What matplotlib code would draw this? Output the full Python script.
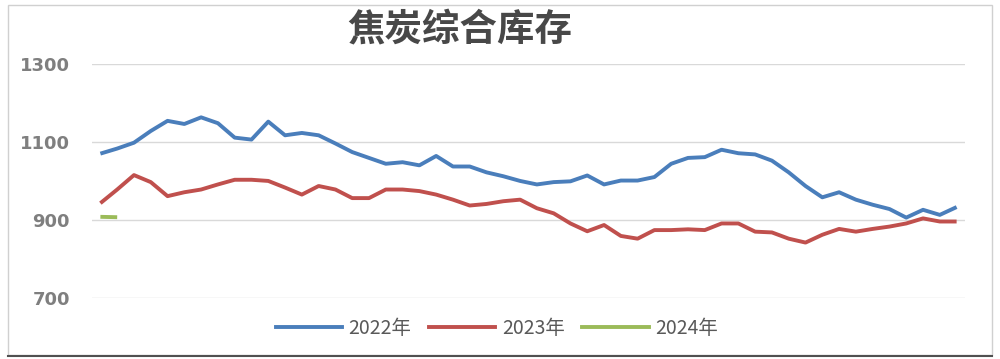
import matplotlib
matplotlib.use("Agg")
import matplotlib.pyplot as plt
import numpy as np
from matplotlib.patches import Rectangle
from matplotlib.lines import Line2D

plt.rcParams['font.family'] = ['Noto Sans CJK SC', 'DejaVu Sans']

# weekly coke inventory (weeks 1..52)
inv_2022 = [1070, 1083, 1098, 1128, 1154, 1146, 1163, 1148, 1111, 1106,
            1152, 1117, 1123, 1117, 1096, 1074, 1059, 1044, 1048, 1040,
            1064, 1037, 1037, 1022, 1012, 1000, 991, 997, 999, 1014,
            991, 1001, 1001, 1010, 1044, 1059, 1061, 1080, 1071, 1068,
            1052, 1022, 987, 958, 971, 952, 939, 928, 906, 926,
            913, 933]
inv_2023 = [943, 978, 1015, 997, 961, 971, 978, 991, 1003, 1003,
            1000, 983, 965, 987, 978, 956, 956, 978, 978, 974,
            965, 952, 937, 941, 948, 952, 930, 917, 891, 871,
            887, 859, 852, 874, 874, 876, 874, 891, 891, 870,
            868, 852, 842, 862, 877, 870, 877, 883, 891, 904,
            896, 896]
inv_2024 = [908, 907]

labels = ['2022年', '2023年', '2024年']
colors = ['#4a7ebb', '#c0504d', '#9bbb59']
yticks = [700, 900, 1100, 1300]

fig = plt.figure(figsize=(10, 3.59), dpi=100)
ax = fig.add_axes([0.092, 0.170, 0.873, 0.652])

for vals, lab, c in zip([inv_2022, inv_2023, inv_2024], labels, colors):
    ax.plot(np.arange(len(vals)), vals, color=c, lw=2.8, label=lab,
            solid_joinstyle='round', solid_capstyle='butt')

ax.set_xlim(-0.5, 51.5)
ax.set_ylim(700, 1300)
ax.set_yticks(yticks)
ax.set_yticklabels([str(t) for t in yticks], fontsize=13, color='#7f7f7f',
                   fontweight='bold', family='DejaVu Sans')
ax.set_xticks([])
ax.tick_params(axis='y', length=0, pad=16)
ax.grid(axis='y', color='#d9d9d9', lw=1)
ax.set_axisbelow(True)
for s in ax.spines.values():
    s.set_visible(False)

fig.text(0.46, 0.918, '焦炭综合库存', ha='center', va='center', fontsize=27,
         fontweight='bold', color='#484848')

handles = [Line2D([0], [0], color=c, lw=2.8) for c in colors]
fig.legend(handles, labels, loc='center', bbox_to_anchor=(0.497, 0.085),
           ncol=3, frameon=False, fontsize=14, handlelength=3.4,
           handletextpad=0.35, columnspacing=0.9,
           labelcolor='#595959')

# chart border like the pasted Excel picture
fig.patches.append(Rectangle((0.008, 0.012), 0.984, 0.975, transform=fig.transFigure,
                             fill=False, edgecolor='#d0d0d0', lw=1))
fig.add_artist(Line2D([0.008, 0.992], [0.008, 0.008], transform=fig.transFigure,
                      color='#505050', lw=1.5))

fig.savefig('out.png', dpi=100, facecolor='white')
